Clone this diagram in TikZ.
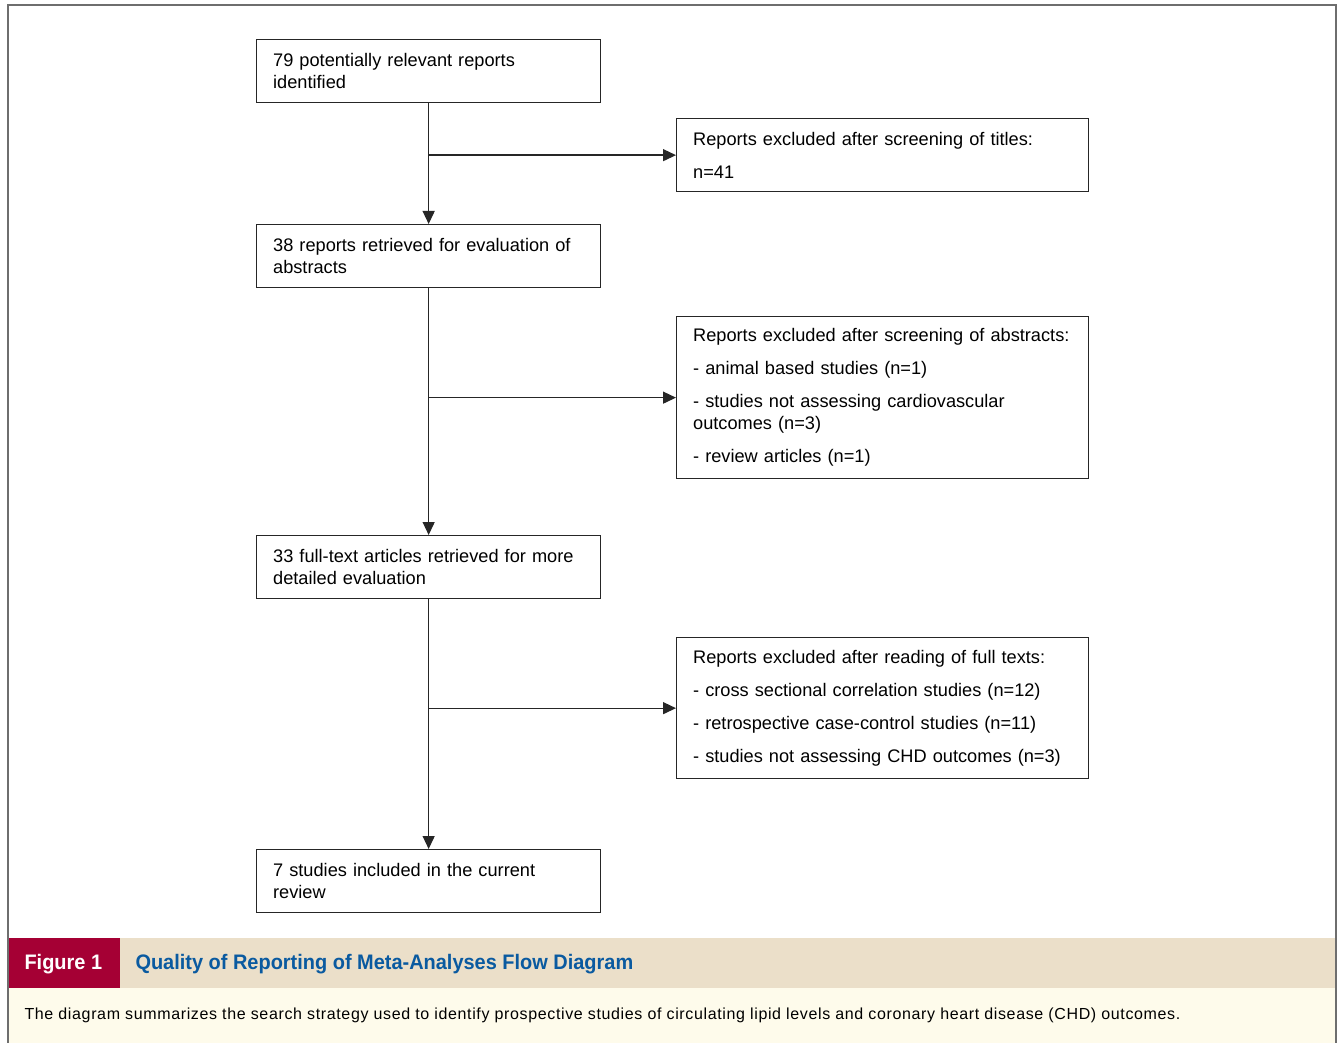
\documentclass[tikz,border=0pt]{standalone}
\usepackage{fontspec}
\setmainfont{Liberation Sans}
\newfontfamily\capfont[FakeStretch=0.95]{Liberation Sans}
\newfontfamily\captextfont[LetterSpace=4]{Liberation Sans}
\usetikzlibrary{arrows.meta, positioning, calc}
\definecolor{figred}{HTML}{A50034}
\definecolor{capbeige}{HTML}{EBDFC9}
\definecolor{capcream}{HTML}{FEFBEB}
\definecolor{capblue}{HTML}{0A5AA0}
\definecolor{framegray}{HTML}{6E6E6E}

\begin{document}
\begin{tikzpicture}[
  x=1pt, y=-1pt,
  every node/.style={font=\fontsize{18.2}{22}\selectfont},
  flowbox/.style={draw=black!85, line width=1.3pt, anchor=north west, align=left,
    inner xsep=16.5pt, inner ysep=0pt},
  leftbox/.style={flowbox, minimum width=344pt, minimum height=63pt, text width=311pt},
  rightbox/.style={flowbox, minimum width=412pt, text width=379pt},
  arr/.style={line width=1.3pt, draw=black!85, -{Triangle[length=13pt,width=12pt]}}
]
\useasboundingbox (0,0) rectangle (1341,1043);
% frame and caption
\fill[capbeige] (8,938) rectangle (1336,988);
\fill[capcream] (8,988) rectangle (1336,1043);
\fill[figred] (8,938) rectangle (120,988);
\draw[framegray, line width=1.2pt] (8,1043) -- (8,5) -- (1336,5) -- (1336,1043);
\node[anchor=west, text=white, font=\capfont\fontsize{21}{24}\selectfont\bfseries] (fignum) at (21,964) {Figure 1};
\node[anchor=west, text=capblue, font=\capfont\fontsize{21}{24}\selectfont\bfseries] (figtitle) at (132,964) {Quality of Reporting of Meta-Analyses Flow Diagram};
\node[anchor=west, font=\captextfont\fontsize{16}{18}\selectfont] (figtext) at (21,1015) {The diagram summarizes the search strategy used to identify prospective studies of circulating lipid levels and coronary heart disease (CHD) outcomes.};

% main column
\node[leftbox] (found) at (256,39) {79 potentially relevant reports\\identified};
\node[leftbox] (abstracts) at (256,224) {38 reports retrieved for evaluation of\\abstracts};
\node[leftbox] (fulltext) at (256,535) {33 full-text articles retrieved for more\\detailed evaluation};
\node[leftbox] (included) at (256,849) {7 studies included in the current\\review};

% exclusions
\node[rightbox, minimum height=73pt] (exTitles) at (676,118) {Reports excluded after screening of titles:\\[11pt]n=41};
\node[rightbox, minimum height=162pt] (exAbstracts) at (676,316) {Reports excluded after screening of abstracts:\\[11pt]- animal based studies (n=1)\\[11pt]- studies not assessing cardiovascular\\outcomes (n=3)\\[11pt]- review articles (n=1)};
\node[rightbox, minimum height=141pt] (exFull) at (676,637) {Reports excluded after reading of full texts:\\[11pt]- cross sectional correlation studies (n=12)\\[11pt]- retrospective case-control studies (n=11)\\[11pt]- studies not assessing CHD outcomes (n=3)};

% connectors
\draw[arr] (found) -- (abstracts);
\draw[arr] (abstracts) -- (fulltext);
\draw[arr] (fulltext) -- (included);
\draw[arr] (found.south |- exTitles.west) -- (exTitles.west);
\draw[arr] (abstracts.south |- exAbstracts.west) -- (exAbstracts.west);
\draw[arr] (fulltext.south |- exFull.west) -- (exFull.west);
\end{tikzpicture}
\end{document}
